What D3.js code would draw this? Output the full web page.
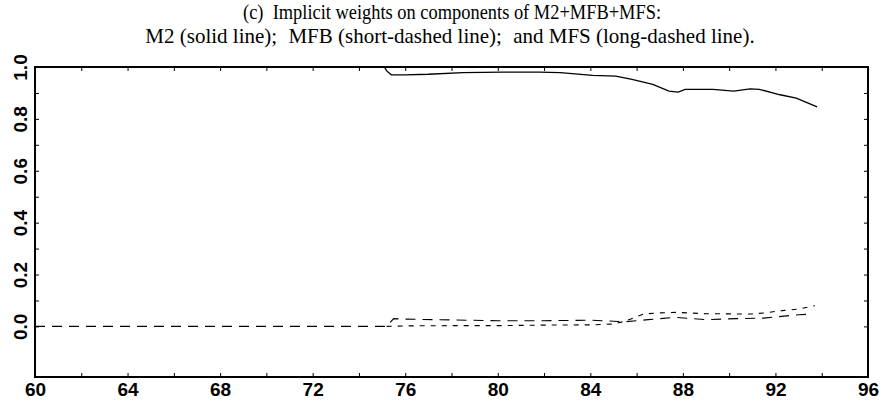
<!DOCTYPE html>
<html>
<head>
<meta charset="utf-8">
<script src="https://cdn.jsdelivr.net/npm/d3@7"></script>
<style>
  html, body { margin: 0; padding: 0; background: #fff; }
  svg { display: block; }
</style>
</head>
<body>
<svg id="chart" width="887" height="410"></svg>
<script>
// ---- data ----
const titleLines = [
  "(c)  Implicit weights on components of M2+MFB+MFS:",
  "M2 (solid line);  MFB (short-dashed line);  and MFS (long-dashed line)."
];
const xTickLabels = [60, 64, 68, 72, 76, 80, 84, 88, 92, 96];
const yTickLabels = [0.0, 0.2, 0.4, 0.6, 0.8, 1.0];

const m2Years = [60, 75.1, 75.2, 75.4, 76, 77, 78.5, 80.2, 81.8, 82.7, 84.1, 85.1, 85.8, 86.7, 87.4, 87.8, 88.1, 89.3, 90.2, 90.9, 91.3, 92.2, 92.9, 93.8];
const m2Values = [1.0, 1.0, 0.985, 0.97, 0.97, 0.972, 0.978, 0.98, 0.98, 0.978, 0.968, 0.965, 0.952, 0.933, 0.907, 0.903, 0.914, 0.914, 0.907, 0.916, 0.914, 0.893, 0.88, 0.846];

const mfbYears = [75.2, 76, 78, 80, 82, 84, 85, 85.5, 86.3, 87, 87.7, 89, 90.3, 91, 91.5, 92.3, 93, 93.7];
const mfbValues = [0, 0.002, 0.003, 0.003, 0.005, 0.006, 0.009, 0.02, 0.048, 0.052, 0.054, 0.049, 0.048, 0.048, 0.052, 0.061, 0.067, 0.08];

const mfsYears = [60, 75.2, 75.5, 76, 78, 80, 82, 84, 85, 85.5, 86.5, 87.7, 89, 90.3, 91.5, 93, 93.6];
const mfsValues = [0, 0, 0.03, 0.028, 0.025, 0.022, 0.022, 0.024, 0.02, 0.018, 0.026, 0.035, 0.026, 0.03, 0.032, 0.045, 0.048];

// ---- layout ----
const W = 887, H = 410;
const margin = { left: 35, right: 19, top: 67, bottom: 33 };
const svg = d3.select("#chart");

const x = d3.scaleLinear().domain([60, 96]).range([margin.left, W - margin.right]);
const y = d3.scaleLinear().domain([-0.195, 1.0]).range([H - margin.bottom, margin.top]);

// title
const serif = "'Liberation Serif', 'Times New Roman', serif";
svg.append("text")
  .attr("x", 452).attr("y", 19)
  .attr("text-anchor", "middle")
  .attr("xml:space", "preserve")
  .style("white-space", "pre")
  .attr("textLength", 418)
  .attr("lengthAdjust", "spacingAndGlyphs")
  .attr("font-family", serif).attr("font-size", 21).attr("fill", "#000")
  .text(titleLines[0]);

const t2 = svg.append("text")
  .attr("x", 450).attr("y", 43)
  .attr("text-anchor", "middle")
  .attr("xml:space", "preserve")
  .style("white-space", "pre")
  .attr("font-family", serif).attr("font-size", 21).attr("fill", "#000");
titleLines[1].split("  ").forEach((part, i) => {
  t2.append("tspan").attr("dx", i > 0 ? 6 : 0).text((i > 0 ? " " : "") + part);
});

const labelFont = "'Liberation Sans', Arial, Helvetica, sans-serif";

// bottom axis (inward ticks every 2, labels every 4)
const xAxis = svg.append("g")
  .attr("transform", `translate(0,${H - margin.bottom})`)
  .call(d3.axisBottom(x).tickValues(d3.range(60, 97, 2)).tickSizeInner(-4).tickSizeOuter(0).tickPadding(6)
    .tickFormat(d => xTickLabels.includes(d) ? String(d) : ""));
xAxis.select(".domain").remove();
xAxis.selectAll("text").attr("font-family", labelFont).attr("font-size", 19).attr("font-weight", "bold").attr("fill", "#000");
xAxis.selectAll("line").attr("stroke", "#000");

// top axis ticks
const xTop = svg.append("g")
  .attr("transform", `translate(0,${margin.top})`)
  .call(d3.axisTop(x).tickValues(d3.range(60, 97, 2)).tickSizeInner(-4).tickSizeOuter(0).tickFormat(""));
xTop.select(".domain").remove();

// left axis (inward ticks every 0.1, rotated labels every 0.2)
const yAxis = svg.append("g")
  .attr("transform", `translate(${margin.left},0)`)
  .call(d3.axisLeft(y).tickValues(d3.range(0, 11).map(i => i / 10)).tickSizeInner(-4).tickSizeOuter(0)
    .tickFormat(d => yTickLabels.some(v => Math.abs(v - d) < 1e-9) ? d3.format(".1f")(d) : ""));
yAxis.select(".domain").remove();
yAxis.selectAll("text")
  .attr("transform", "rotate(-90)")
  .attr("x", 0).attr("y", -8).attr("dy", "0")
  .attr("text-anchor", "middle")
  .attr("font-family", labelFont).attr("font-size", 19).attr("font-weight", "bold").attr("fill", "#000");

// right axis ticks
const yRight = svg.append("g")
  .attr("transform", `translate(${W - margin.right},0)`)
  .call(d3.axisRight(y).tickValues(d3.range(0, 11).map(i => i / 10)).tickSizeInner(-4).tickSizeOuter(0).tickFormat(""));
yRight.select(".domain").remove();

// lines
const line = d3.line().x(d => x(d[0])).y(d => y(d[1]));
const zip = (a, b) => a.map((v, i) => [v, b[i]]);

svg.append("path").datum(zip(mfsYears, mfsValues))
  .attr("d", line).attr("fill", "none").attr("stroke", "#000").attr("stroke-width", 1.1)
  .attr("stroke-dasharray", "10,7");
svg.append("path").datum(zip(mfbYears, mfbValues))
  .attr("d", line).attr("fill", "none").attr("stroke", "#000").attr("stroke-width", 1.1)
  .attr("stroke-dasharray", "5,6");
svg.append("path").datum(zip(m2Years, m2Values))
  .attr("d", line).attr("fill", "none").attr("stroke", "#000").attr("stroke-width", 1.3);

// frame
svg.append("rect")
  .attr("x", x(60)).attr("y", y(1.0))
  .attr("width", x(96) - x(60)).attr("height", y(-0.195) - y(1.0))
  .attr("fill", "none").attr("stroke", "#000").attr("stroke-width", 2);
</script>
</body>
</html>
